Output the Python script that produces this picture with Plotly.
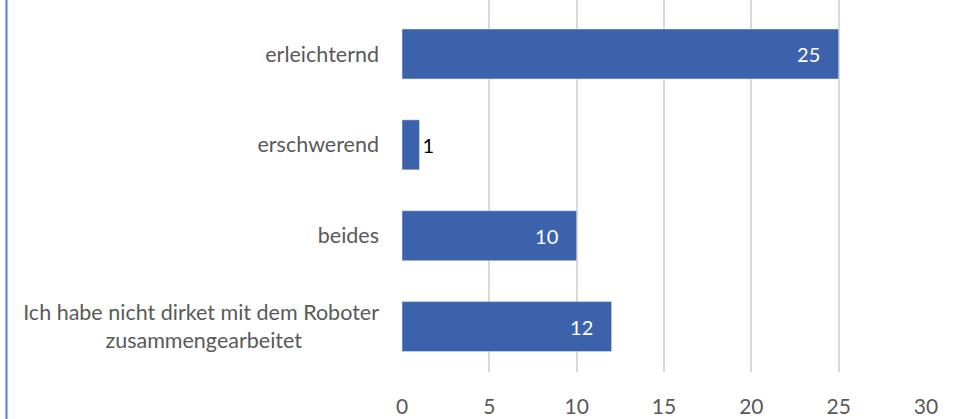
import plotly.graph_objects as go

categories = ["erleichternd", "erschwerend", "beides",
              "Ich habe nicht dirket mit dem Roboter zusammengearbeitet"]
tick_labels = ["erleichternd", "erschwerend", "beides",
               "Ich habe nicht dirket mit dem Roboter<br>zusammengearbeitet"
               + "\u00a0" * 14]
values = [25, 1, 10, 12]
label_pos = ["inside", "outside", "inside", "inside"]
x_ticks = [0, 5, 10, 15, 20, 25, 30]

FONT = "Lato"
fig = go.Figure(go.Bar(
    y=categories, x=values, orientation="h",
    marker=dict(color="#3B62AB"),
    width=0.55,
    text=[str(v) + ("\u00a0\u00a0\u00a0" if p == "inside" else "")
          for v, p in zip(values, label_pos)],
    textposition=label_pos,
    insidetextanchor="end",
    insidetextfont=dict(color="white", size=20, family=FONT),
    outsidetextfont=dict(color="black", size=20, family=FONT),
    cliponaxis=False,
))

fig.update_layout(
    width=961, height=419,
    margin=dict(l=402, r=35, t=0, b=46.5),
    paper_bgcolor="white", plot_bgcolor="white",
    showlegend=False,
    font=dict(family=FONT, color="#595959", size=21.5),
    xaxis=dict(range=[0, 30], tickvals=x_ticks, showgrid=True,
               gridcolor="#D9D9D9", gridwidth=2, zeroline=False,
               showline=False, ticklabelstandoff=20, automargin=False,
               tickfont=dict(size=21, color="#595959")),
    yaxis=dict(categoryorder="array", categoryarray=categories,
               tickvals=categories, ticktext=tick_labels,
               range=[3.5, -0.594], showgrid=False, zeroline=False,
               showline=False, ticklabelstandoff=22, automargin=False,
               tickfont=dict(size=21.5, color="#595959")),
    shapes=[dict(type="line", xref="paper", yref="paper",
                 x0=-0.7548, x1=-0.7548, y0=-0.2, y1=1.2,
                 line=dict(color="#4A7FD8", width=2))],
)

fig.write_html("out.html",
               config={"displayModeBar": False},
               post_script="document.body.style.margin='0';"
                           "document.body.style.overflow='hidden';")
